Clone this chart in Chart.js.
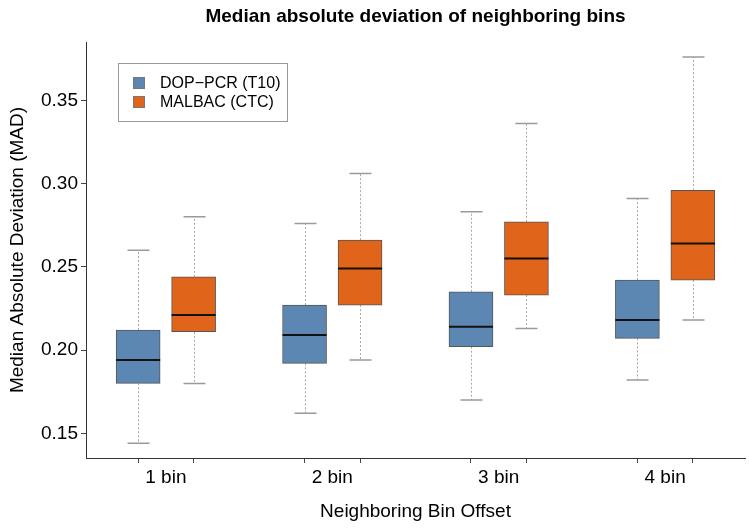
<!DOCTYPE html>
<html lang="en">
<head>
  <meta charset="UTF-8">
  <title>Median absolute deviation of neighboring bins</title>
  <style>
    html, body { margin: 0; padding: 0; background: #fff; }
    #wrap { width: 749px; height: 532px; }
  </style>
</head>
<body>
  <div id="wrap">
    <canvas id="myChart" width="749" height="532"></canvas>
  </div>

  <script src="https://cdn.jsdelivr.net/npm/chart.js"></script>

  <script>
    // values
    const categories = ['1 bin', '2 bin', '3 bin', '4 bin'];
    const seriesNames = ['DOP\u2212PCR (T10)', 'MALBAC (CTC)'];

    const dopMin = [0.144, 0.162, 0.170, 0.182];
    const dopQ1  = [0.180, 0.192, 0.202, 0.207];
    const dopMed = [0.194, 0.209, 0.214, 0.218];
    const dopQ3  = [0.212, 0.227, 0.235, 0.242];
    const dopMax = [0.260, 0.276, 0.283, 0.291];

    const malMin = [0.180, 0.194, 0.213, 0.218];
    const malQ1  = [0.211, 0.227, 0.233, 0.242];
    const malMed = [0.221, 0.249, 0.255, 0.264];
    const malQ3  = [0.244, 0.266, 0.277, 0.296];
    const malMax = [0.280, 0.306, 0.336, 0.376];

    const yTicks = [0.15, 0.20, 0.25, 0.30, 0.35];

    const FONT = '"Liberation Sans", Arial, Helvetica, sans-serif';
    const colors = ['#5b87b2', '#e0641a'];

    // box positions: two boxes per group, one slot gap between groups
    const pos = (i, s) => i * 3 + 1 + s;

    const boxes = [
      { min: dopMin, q1: dopQ1, med: dopMed, q3: dopQ3, max: dopMax },
      { min: malMin, q1: malQ1, med: malMed, q3: malQ3, max: malMax }
    ];

    const xTickValues = [];
    categories.forEach((c, i) => { xTickValues.push(pos(i, 0), pos(i, 0.5), pos(i, 1)); });

    const boxPlugin = {
      id: 'boxExtras',
      beforeDatasetsDraw(chart) {
        const { ctx, scales: { x, y } } = chart;
        ctx.save();
        boxes.forEach((b, s) => {
          categories.forEach((c, i) => {
            const px = Math.round(x.getPixelForValue(pos(i, s))) + 0.5;
            // dotted whiskers
            ctx.strokeStyle = '#a8a8a8';
            ctx.lineWidth = 1;
            ctx.setLineDash([2, 2]);
            ctx.beginPath();
            ctx.moveTo(px, y.getPixelForValue(b.q3[i]));
            ctx.lineTo(px, y.getPixelForValue(b.max[i]));
            ctx.moveTo(px, y.getPixelForValue(b.q1[i]));
            ctx.lineTo(px, y.getPixelForValue(b.min[i]));
            ctx.stroke();
            ctx.setLineDash([]);
            // caps
            ctx.strokeStyle = '#9a9a9a';
            ctx.lineWidth = 1.5;
            ctx.beginPath();
            [b.max[i], b.min[i]].forEach(v => {
              const py = y.getPixelForValue(v);
              ctx.moveTo(px - 11, py);
              ctx.lineTo(px + 11, py);
            });
            ctx.stroke();
          });
        });
        ctx.restore();
      },
      afterDatasetsDraw(chart) {
        const { ctx, scales: { x, y } } = chart;
        ctx.save();
        ctx.strokeStyle = '#111';
        ctx.lineWidth = 2;
        boxes.forEach((b, s) => {
          categories.forEach((c, i) => {
            const px = x.getPixelForValue(pos(i, s));
            const py = y.getPixelForValue(b.med[i]);
            ctx.beginPath();
            ctx.moveTo(px - 22, py);
            ctx.lineTo(px + 22, py);
            ctx.stroke();
          });
        });
        ctx.restore();
      },
      afterDraw(chart) {
        const { ctx, chartArea } = chart;
        ctx.save();
        // title
        ctx.fillStyle = '#000';
        ctx.font = 'bold 19px ' + FONT;
        ctx.textAlign = 'center';
        ctx.textBaseline = 'middle';
        ctx.fillText('Median absolute deviation of neighboring bins',
          (chartArea.left + chartArea.right) / 2, 17);
        // legend
        const lx = chartArea.left + 32, ly = chartArea.top + 21;
        ctx.strokeStyle = '#999';
        ctx.lineWidth = 1;
        ctx.strokeRect(lx + 0.5, ly + 0.5, 169, 58);
        ctx.font = '16px ' + FONT;
        ctx.textAlign = 'left';
        seriesNames.forEach((name, k) => {
          const ry = ly + 20 + k * 19;
          ctx.fillStyle = colors[k];
          ctx.fillRect(lx + 15, ry - 6, 12, 12);
          ctx.strokeStyle = '#777';
          ctx.strokeRect(lx + 15.5, ry - 5.5, 11, 11);
          ctx.fillStyle = '#000';
          ctx.fillText(name, lx + 42, ry + 1);
        });
        ctx.restore();
      }
    };

    const ctx = document.getElementById('myChart').getContext('2d');

    const dataSets = boxes.map((b, s) => ({
      label: seriesNames[s],
      data: categories.map((c, i) => ({ x: pos(i, s), y: [b.q1[i], b.q3[i]] })),
      backgroundColor: colors[s],
      borderColor: '#555',
      borderWidth: 1,
      borderSkipped: false,
      barThickness: 44,
      grouped: false
    }));

    new Chart(ctx, {
      type: 'bar',
      data: { datasets: dataSets },
      plugins: [boxPlugin],
      options: {
        responsive: false,
        animation: false,
        devicePixelRatio: 1,
        layout: { padding: { top: 42, right: 4, left: 0, bottom: 0 } },
        plugins: {
          legend: { display: false },
          title: { display: false },
          tooltip: { enabled: false }
        },
        scales: {
          x: {
            type: 'linear',
            min: 0.06,
            max: 11.94,
            offset: false,
            afterFit: s => { s.height = 74; },
            afterBuildTicks: s => { s.ticks = xTickValues.map(v => ({ value: v })); },
            grid: {
              offset: false,
              drawOnChartArea: false,
              drawTicks: true,
              tickLength: 5,
              tickColor: c => (c.tick && Number.isInteger(c.tick.value)) ? '#444' : 'rgba(0,0,0,0)'
            },
            border: { display: true, color: '#333', width: 1 },
            ticks: {
              autoSkip: false,
              maxRotation: 0,
              padding: 3,
              color: '#000',
              font: { family: FONT, size: 19 },
              callback: v => {
                const i = (v - 1.5) / 3;
                return Number.isInteger(i) ? categories[i] : '';
              }
            },
            title: {
              display: true,
              text: 'Neighboring Bin Offset',
              color: '#000',
              font: { family: FONT, size: 19 },
              padding: { top: 0, bottom: 8.6 }
            }
          },
          y: {
            min: 0.1352,
            max: 0.385,
            afterFit: s => { s.width = 86; },
            afterBuildTicks: s => { s.ticks = yTicks.map(v => ({ value: v })); },
            grid: {
              drawOnChartArea: false,
              drawTicks: true,
              tickLength: 5,
              tickColor: '#444'
            },
            border: { display: true, color: '#333', width: 1 },
            ticks: {
              padding: 3,
              color: '#000',
              font: { family: FONT, size: 19 },
              callback: v => v.toFixed(2)
            },
            title: {
              display: true,
              text: 'Median Absolute Deviation (MAD)',
              color: '#000',
              font: { family: FONT, size: 19 },
              padding: { top: 6, bottom: 0 }
            }
          }
        }
      }
    });
  </script>
</body>
</html>
